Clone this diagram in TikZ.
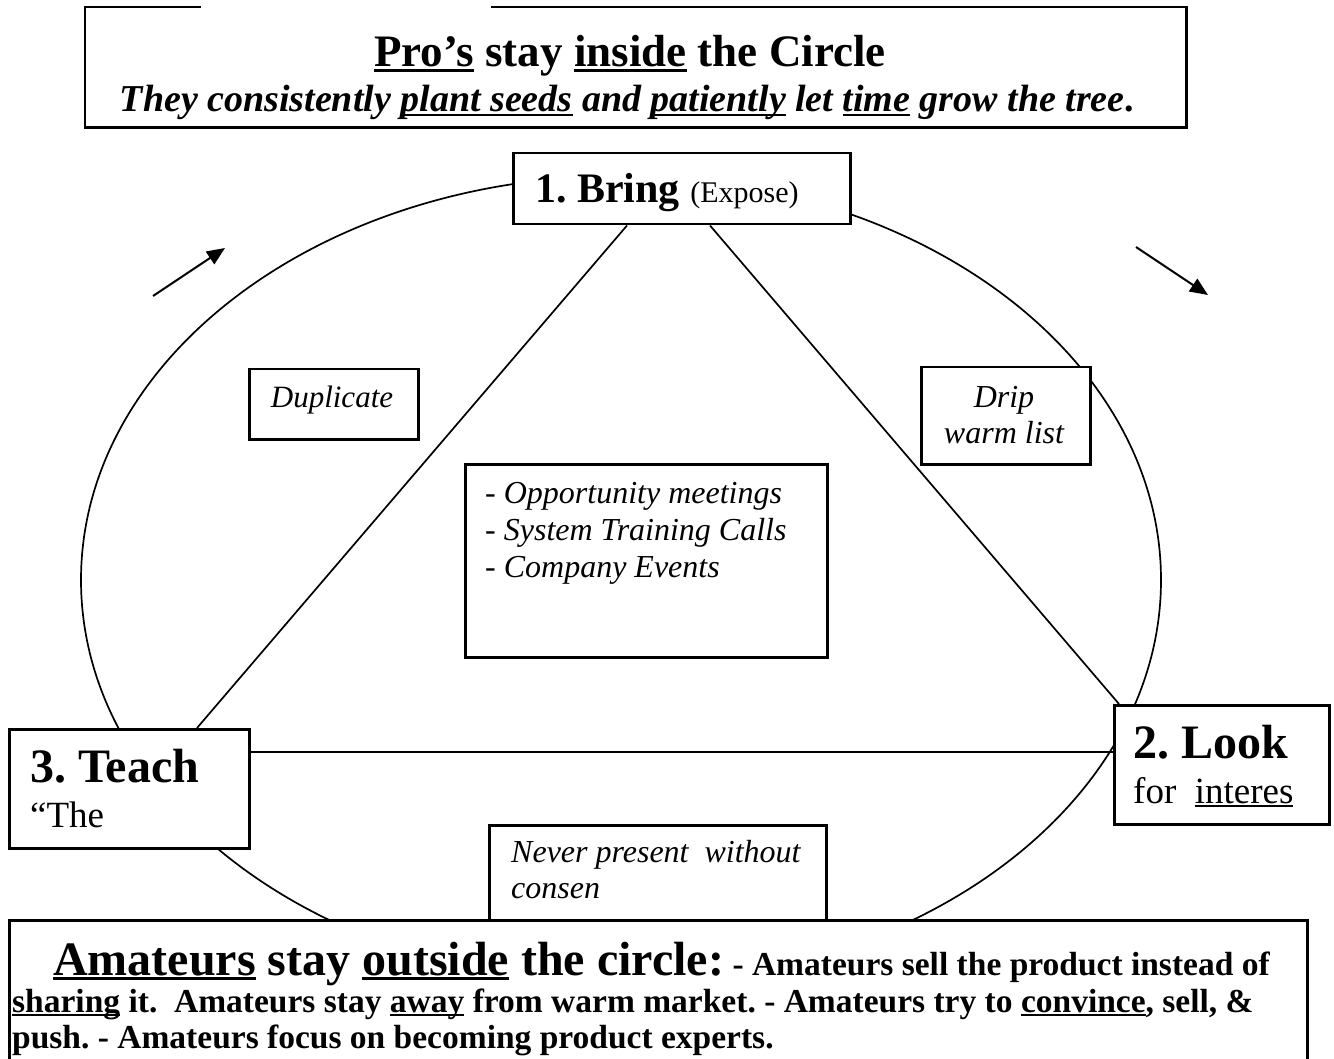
\documentclass[tikz,border=0pt]{standalone}
\usepackage{fontspec}
\setmainfont{Liberation Serif}
\usetikzlibrary{calc,arrows.meta}
\newsavebox\ulbox
\newcommand\uln[1]{\sbox\ulbox{#1}\rlap{\rule[-0.11em]{\wd\ulbox}{0.065em}}\usebox\ulbox}
\frenchspacing
\begin{document}
\begin{tikzpicture}[x=1pt,y=-1pt,
  box/.style={draw, line width=2.5pt, fill=white, inner sep=0pt, anchor=north west},
  ln/.style={line width=1.7pt},
  arr/.style={line width=2pt, -{Triangle[length=18pt,width=15pt]}},
  txt/.style={inner sep=0pt, anchor=base west},
  ctxt/.style={inner sep=0pt, anchor=base},
  big/.style={font=\fontsize{48}{50}\selectfont\bfseries},
  mid/.style={font=\fontsize{37}{40}\selectfont},
  ital/.style={font=\fontsize{32}{34}\selectfont\itshape},
  amat/.style={font=\fontsize{33.5}{36}\selectfont\bfseries}]
\useasboundingbox (0,0) rectangle (1334,1059);
\clip (0,0) rectangle (1334,1059);
\fill[white] (0,0) rectangle (1334,1059);
% ellipse
\draw[ln] (621,580) ellipse [x radius=540, y radius=404];
% top box
\node[inner sep=0pt, anchor=north west, minimum width=1101, minimum height=120] (tb) at (85,7) {};
\draw[line width=2.5pt] ($(tb.north west)+(406,0)$) -- (tb.north east) -- (tb.south east) -- (tb.south west) -- (tb.north west) -- ($(tb.north west)+(116,0)$);
\node[ctxt, font=\fontsize{45}{48}\selectfont\bfseries] (title) at (630,67) {\uln{Pro’s} stay \uln{inside} the Circle};
\node[ctxt, font=\fontsize{38}{40}\selectfont\bfseries\itshape] (sub) at (627,112) {They consistently \uln{plant seeds} and \uln{patiently} let \uln{time} grow the tree{\upshape.}};
% arrows
\coordinate (a1s) at (153,296);
\coordinate (a1e) at (225,248);
\coordinate (a2s) at (1136,247);
\coordinate (a2e) at (1208,295);
\draw[arr] (a1s) -- (a1e);
\draw[arr] (a2s) -- (a2e);
% boxes
\node[box, minimum width=337, minimum height=71] (b1) at (512,152) {};
\node[box, minimum width=215, minimum height=119] (b2) at (1113,704) {};
\node[box, minimum width=240, minimum height=119] (b3) at (8,728) {};
% triangle
\draw[ln] ($(b1.south west)+(115,0)$) -- ($(b3.north west)+(189,0)$);
\draw[ln] ($(b1.south west)+(198,0)$) -- ($(b2.north west)+(6,0)$);
\draw[ln] ($(b3.north east)+(0,24)$) -- ($(b2.north west)+(0,48)$);
% inner boxes
\node[box, minimum width=169, minimum height=70] (dup) at (248,368) {};
\node[box, minimum width=169, minimum height=97] (drip) at (920,366) {};
\node[box, minimum width=362, minimum height=193] (cb) at (464,463) {};
\node[box, minimum width=337, minimum height=120] (nv) at (488,824) {};
% texts
\node[txt, font=\fontsize{42}{44}\selectfont\bfseries] (b1t) at (535,203) {1. Bring {\mdseries\fontsize{30}{32}\selectfont (Expose)}};
\node[txt, big] (b2t) at (1133,758) {2. Look};
\node[txt, mid] (b2u) at (1133,803) {for\ \ \uln{interes}};
\node[txt, big] (b3t) at (30,782) {3. Teach};
\node[txt, mid] (b3u) at (30,827) {“The};
\node[ctxt, font=\fontsize{31}{33}\selectfont\itshape] (dupt) at (332,407) {Duplicate};
\node[ctxt, ital] (dript) at (1004,407) {Drip};
\node[ctxt, ital] (dripu) at (1004,443) {warm list};
\node[txt, ital] (cb1) at (485,503) {{\upshape-} Opportunity meetings};
\node[txt, ital] (cb2) at (485,540) {{\upshape-} System Training Calls};
\node[txt, ital] (cb3) at (485,577) {{\upshape-} Company Events};
\node[txt, ital] (nv1) at (511,862) {Never present\ \ without};
\node[txt, ital] (nv2) at (511,898) {consen};
% bottom box
\node[box, minimum width=1298, minimum height=170] (bb) at (8,919) {};
\node[txt, amat] (bt1) at (53,975) {{\fontsize{48}{50}\selectfont\uln{Amateurs} stay \uln{outside} the circle:} - Amateurs sell the product instead of};
\node[txt, amat] (bt2) at (12,1012) {\uln{sharing} it.\ \ Amateurs stay \uln{away} from warm market. - Amateurs try to \uln{convince}, sell, \&};
\node[txt, amat] (bt3) at (12,1048) {push. - Amateurs focus on becoming product experts.};
\end{tikzpicture}
\end{document}
